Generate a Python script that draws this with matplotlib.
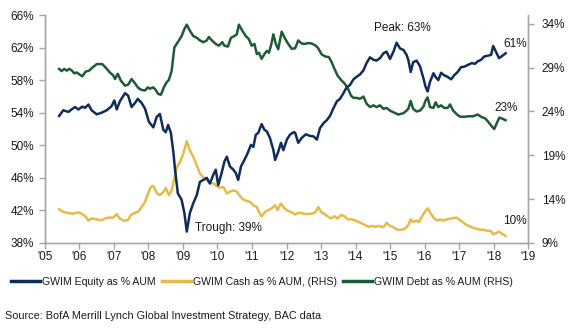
import matplotlib
matplotlib.use("Agg")
import matplotlib.pyplot as plt
import numpy as np

plt.rcParams["font.family"] = ["Liberation Sans", "DejaVu Sans"]

# GWIM equity as % AUM (left axis)
eq_dates = [2005.41, 2005.53, 2005.68, 2005.77, 2005.87, 2005.97, 2006.08, 2006.16, 2006.26, 2006.35,
            2006.50, 2006.64, 2006.79, 2006.93, 2007.01, 2007.08, 2007.17, 2007.32, 2007.41, 2007.51,
            2007.61, 2007.69, 2007.80, 2007.90, 2008.01, 2008.14, 2008.24, 2008.33, 2008.43, 2008.50,
            2008.57, 2008.65, 2008.72, 2008.77, 2008.85, 2008.96, 2009.04, 2009.11, 2009.20, 2009.30,
            2009.40, 2009.49, 2009.59, 2009.69, 2009.78, 2009.88, 2009.95, 2010.02, 2010.12, 2010.20,
            2010.27, 2010.36, 2010.46, 2010.53, 2010.60, 2010.68, 2010.78, 2010.87, 2010.97, 2011.04,
            2011.11, 2011.18, 2011.28, 2011.36, 2011.43, 2011.52, 2011.62, 2011.67, 2011.76, 2011.84,
            2011.91, 2012.01, 2012.10, 2012.20, 2012.25, 2012.34, 2012.44, 2012.56, 2012.68, 2012.78,
            2012.88, 2012.97, 2013.07, 2013.17, 2013.26, 2013.36, 2013.46, 2013.55, 2013.65, 2013.74,
            2013.84, 2013.94, 2014.03, 2014.13, 2014.23, 2014.32, 2014.42, 2014.52, 2014.61, 2014.71,
            2014.81, 2014.90, 2015.00, 2015.10, 2015.19, 2015.29, 2015.39, 2015.48, 2015.53, 2015.60,
            2015.67, 2015.77, 2015.87, 2015.97, 2016.03, 2016.09, 2016.16, 2016.26, 2016.32, 2016.40,
            2016.48, 2016.57, 2016.67, 2016.77, 2016.86, 2016.96, 2017.06, 2017.15, 2017.27, 2017.37,
            2017.46, 2017.54, 2017.64, 2017.73, 2017.83, 2017.93, 2017.99, 2018.09, 2018.16, 2018.26,
            2018.35]
eq_vals = [53.6, 54.3, 54.1, 54.4, 54.7, 54.4, 54.75, 54.6, 55.0, 54.3,
           53.8, 54.0, 54.3, 54.8, 55.5, 54.4, 55.4, 56.4, 56.1, 54.7,
           55.2, 55.7, 55.2, 54.5, 52.9, 52.2, 53.5, 53.85, 51.9, 51.6,
           52.5, 51.5, 49.2, 47.0, 44.1, 43.3, 41.7, 39.4, 41.7, 42.9,
           43.9, 45.5, 45.75, 46.0, 45.3, 46.4, 47.0, 45.1, 46.6, 48.0,
           48.6, 47.4, 47.0, 46.6, 45.75, 47.4, 48.2, 49.0, 50.05, 49.8,
           51.3, 51.5, 52.6, 51.9, 51.7, 50.9, 49.4, 48.2, 49.2, 50.3,
           49.4, 50.7, 51.3, 51.6, 51.55, 50.3, 50.9, 51.35, 51.15, 51.1,
           50.7, 52.1, 52.7, 53.1, 53.6, 54.55, 55.4, 55.7, 56.4, 57.1,
           57.4, 58.1, 58.4, 58.7, 59.2, 60.1, 60.8, 60.5, 60.4, 60.7,
           61.3, 61.5, 60.6, 61.5, 62.6, 61.9, 61.7, 61.1, 60.5, 59.0,
           60.2, 60.4, 59.7, 58.2, 57.2, 56.6, 57.8, 58.85, 58.4, 58.0,
           58.9, 58.6, 58.4, 58.1, 58.6, 59.0, 59.6, 59.65, 59.9, 60.1,
           60.0, 60.3, 60.5, 60.9, 61.0, 61.1, 62.2, 61.3, 60.7, 61.0,
           61.3]

# GWIM cash as % AUM (right axis)
cash_dates = [2005.41, 2005.53, 2005.68, 2005.82, 2005.97, 2006.08, 2006.18, 2006.26, 2006.35, 2006.50,
              2006.64, 2006.74, 2006.88, 2006.98, 2007.08, 2007.17, 2007.27, 2007.40, 2007.49, 2007.61,
              2007.70, 2007.80, 2007.90, 2007.99, 2008.07, 2008.14, 2008.24, 2008.33, 2008.43, 2008.50,
              2008.59, 2008.67, 2008.75, 2008.82, 2008.91, 2009.01, 2009.11, 2009.20, 2009.30, 2009.40,
              2009.49, 2009.59, 2009.69, 2009.78, 2009.88, 2009.98, 2010.07, 2010.17, 2010.27, 2010.36,
              2010.46, 2010.56, 2010.65, 2010.75, 2010.85, 2010.94, 2011.04, 2011.14, 2011.20, 2011.28,
              2011.38, 2011.47, 2011.57, 2011.67, 2011.74, 2011.84, 2011.94, 2012.05, 2012.15, 2012.25,
              2012.34, 2012.44, 2012.54, 2012.65, 2012.78, 2012.85, 2012.92, 2013.00, 2013.10, 2013.19,
              2013.29, 2013.39, 2013.48, 2013.58, 2013.68, 2013.77, 2013.87, 2013.99, 2014.08, 2014.18,
              2014.28, 2014.37, 2014.47, 2014.57, 2014.68, 2014.81, 2014.90, 2015.00, 2015.10, 2015.19,
              2015.29, 2015.39, 2015.48, 2015.53, 2015.60, 2015.67, 2015.77, 2015.84, 2015.92, 2015.99,
              2016.09, 2016.19, 2016.28, 2016.38, 2016.45, 2016.55, 2016.64, 2016.79, 2016.93, 2017.03,
              2017.15, 2017.27, 2017.37, 2017.48, 2017.58, 2017.70, 2017.83, 2017.93, 2017.99, 2018.09,
              2018.16, 2018.26, 2018.35]
cash_vals = [12.85, 12.55, 12.4, 12.35, 12.5, 12.3, 12.0, 11.55, 11.8, 11.7,
             11.6, 11.8, 11.9, 11.9, 12.3, 11.8, 11.55, 11.6, 12.2, 12.45,
             12.55, 13.1, 13.7, 14.65, 15.4, 15.5, 14.7, 14.45, 14.8, 15.3,
             14.45, 15.0, 16.4, 17.65, 18.2, 19.2, 20.6, 19.55, 18.8, 17.85,
             16.9, 16.5, 16.15, 15.85, 15.8, 15.5, 15.3, 15.4, 14.65, 14.85,
             15.0, 14.85, 14.35, 13.95, 13.8, 13.7, 13.3, 13.1, 12.55, 12.05,
             12.55, 12.75, 12.95, 13.3, 12.75, 13.5, 12.95, 12.65, 12.5, 12.25,
             12.45, 12.4, 12.3, 12.3, 12.4, 12.55, 13.1, 12.55, 12.3, 12.05,
             11.8, 12.05, 11.8, 12.2, 12.05, 11.7, 11.7, 11.6, 11.4, 11.25,
             11.05, 10.85, 10.95, 10.85, 10.95, 10.8, 11.3, 10.95, 10.8, 10.55,
             10.5, 10.55, 10.8, 11.05, 11.7, 11.4, 11.55, 11.4, 12.0, 12.45,
             12.95, 12.3, 11.8, 11.55, 11.7, 11.55, 11.7, 11.8, 11.9, 11.6,
             11.25, 10.95, 10.8, 10.65, 10.55, 10.5, 10.4, 10.35, 10.0, 10.15,
             10.3, 10.0, 9.8]

# GWIM debt as % AUM (right axis)
debt_dates = [2005.41, 2005.48, 2005.56, 2005.63, 2005.70, 2005.77, 2005.85, 2005.92, 2006.01, 2006.08,
              2006.18, 2006.28, 2006.37, 2006.50, 2006.66, 2006.76, 2006.88, 2006.98, 2007.03, 2007.11,
              2007.20, 2007.32, 2007.41, 2007.51, 2007.61, 2007.70, 2007.80, 2007.90, 2007.98, 2008.04,
              2008.14, 2008.21, 2008.28, 2008.36, 2008.44, 2008.52, 2008.59, 2008.67, 2008.75, 2008.85,
              2008.96, 2009.04, 2009.11, 2009.20, 2009.30, 2009.40, 2009.49, 2009.59, 2009.69, 2009.75,
              2009.85, 2009.95, 2010.04, 2010.14, 2010.20, 2010.30, 2010.39, 2010.49, 2010.56, 2010.62,
              2010.72, 2010.82, 2010.91, 2010.99, 2011.07, 2011.14, 2011.20, 2011.28, 2011.36, 2011.43,
              2011.49, 2011.55, 2011.62, 2011.69, 2011.76, 2011.86, 2011.96, 2012.05, 2012.15, 2012.25,
              2012.34, 2012.44, 2012.54, 2012.63, 2012.73, 2012.85, 2012.92, 2013.02, 2013.14, 2013.23,
              2013.31, 2013.39, 2013.48, 2013.58, 2013.68, 2013.77, 2013.87, 2013.94, 2014.03, 2014.13,
              2014.23, 2014.32, 2014.42, 2014.52, 2014.61, 2014.71, 2014.81, 2014.90, 2015.00, 2015.10,
              2015.24, 2015.39, 2015.48, 2015.53, 2015.60, 2015.67, 2015.77, 2015.87, 2015.97, 2016.03,
              2016.09, 2016.16, 2016.26, 2016.32, 2016.40, 2016.48, 2016.57, 2016.67, 2016.74, 2016.83,
              2016.93, 2017.03, 2017.15, 2017.27, 2017.41, 2017.54, 2017.66, 2017.76, 2017.85, 2017.95,
              2018.02, 2018.11, 2018.17, 2018.24, 2018.35]
debt_vals = [28.85, 28.6, 28.85, 28.65, 28.85, 28.7, 28.35, 28.45, 28.2, 28.0,
             28.55, 28.65, 29.0, 29.4, 29.4, 29.0, 28.45, 28.1, 27.7, 28.3,
             27.5, 26.95, 27.05, 27.7, 27.2, 26.7, 26.45, 26.4, 26.75, 26.6,
             26.75, 26.45, 26.0, 25.9, 26.7, 27.3, 27.6, 28.6, 31.3, 31.9,
             32.6, 33.4, 33.9, 33.2, 32.6, 32.4, 32.1, 31.9, 32.1, 32.5,
             32.05, 31.7, 31.5, 31.9, 31.5, 31.4, 32.4, 32.6, 32.8, 33.9,
             33.2, 32.6, 32.25, 31.5, 31.7, 30.55, 30.7, 30.0, 30.55, 30.9,
             30.7, 31.5, 32.8, 31.7, 31.1, 33.1, 32.3, 31.7, 31.15, 31.2,
             32.1, 31.75, 31.7, 31.8, 31.75, 31.5, 31.2, 30.5, 30.25, 30.2,
             29.6, 28.85, 28.1, 27.6, 27.2, 26.7, 25.8, 25.55, 25.55, 25.45,
             25.7, 24.9, 24.5, 24.7, 24.5, 24.7, 24.3, 24.4, 24.1, 23.9,
             23.65, 23.8, 24.1, 24.3, 25.2, 24.3, 24.0, 24.1, 24.55, 25.25,
             25.6, 24.5, 24.4, 25.05, 24.5, 24.7, 24.4, 24.4, 24.8, 24.1,
             23.7, 23.4, 23.4, 23.45, 23.45, 23.65, 23.35, 23.2, 22.8, 22.3,
             22.0, 22.8, 23.3, 23.2, 23.0]

years = list(range(2005, 2020))
year_labels = ["'%02d" % (y % 100) for y in years]
left_ticks = [38, 42, 46, 50, 54, 58, 62, 66]
right_ticks = [9, 14, 19, 24, 29, 34]

navy = "#0F2D5C"
gold = "#E8BA4A"
green = "#1F5B36"
spine_col = "#A6A6A6"
txt = "#1A1A1A"

fig = plt.figure(figsize=(5.73, 3.29), dpi=100)
ax = fig.add_axes([0.0785, 0.2614, 0.843, 0.693])
ax2 = ax.twinx()

ax2.plot(cash_dates, cash_vals, color=gold, lw=1.8, solid_joinstyle="round")
ax2.plot(debt_dates, debt_vals, color=green, lw=1.8, solid_joinstyle="round")
ax.plot(eq_dates, eq_vals, color=navy, lw=1.8, solid_joinstyle="round")
ax.set_zorder(ax2.get_zorder() + 1)
ax.patch.set_visible(False)

ax.set_xlim(2005, 2019)
ax.set_ylim(38, 66)
ax2.set_ylim(9, 35)
ax.set_xticks(years)
ax.set_xticklabels(year_labels)
ax.set_yticks(left_ticks)
ax.set_yticklabels(["%d%%" % v for v in left_ticks])
ax2.set_yticks(right_ticks)
ax2.set_yticklabels(["%d%%" % v for v in right_ticks])

for a in (ax, ax2):
    a.spines["top"].set_visible(False)
    for s in ("left", "right", "bottom"):
        a.spines[s].set_color(spine_col)
        a.spines[s].set_linewidth(1.0)
    a.tick_params(axis="both", length=4, width=1, color=spine_col, labelsize=8.5,
                  labelcolor=txt, direction="out", pad=2)
ax.tick_params(axis="y", pad=4)
ax2.tick_params(axis="y", pad=6)

# annotations
ax.text(2015.35, 64.4, "Peak: 63%", fontsize=8.5, ha="center", va="center", color=txt)
ax.text(2010.32, 39.8, "Trough: 39%", fontsize=8.5, ha="center", va="center", color=txt)
ax.text(2018.63, 62.5, "61%", fontsize=8.5, ha="center", va="center", color=txt)
ax2.text(2018.36, 24.45, "23%", fontsize=8.5, ha="center", va="center", color=txt)
ax2.text(2018.61, 11.5, "10%", fontsize=8.5, ha="center", va="center", color=txt)

handles = [
    plt.Line2D([], [], color=navy, lw=2.5),
    plt.Line2D([], [], color=gold, lw=2.5),
    plt.Line2D([], [], color=green, lw=2.5),
]
labels = ["GWIM Equity as % AUM", "GWIM Cash as % AUM, (RHS)", "GWIM Debt as % AUM (RHS)"]
fig.legend(handles, labels, loc="center", bbox_to_anchor=(0.457, 0.143), ncol=3,
           frameon=False, fontsize=7.6, handlelength=2.75, handletextpad=0.2,
           columnspacing=0.55, labelcolor=txt)

fig.text(0.009, 0.04, "Source: BofA Merrill Lynch Global Investment Strategy, BAC data",
         fontsize=7.8, color=txt, ha="left", va="center")

fig.savefig("out.png", dpi=100)
